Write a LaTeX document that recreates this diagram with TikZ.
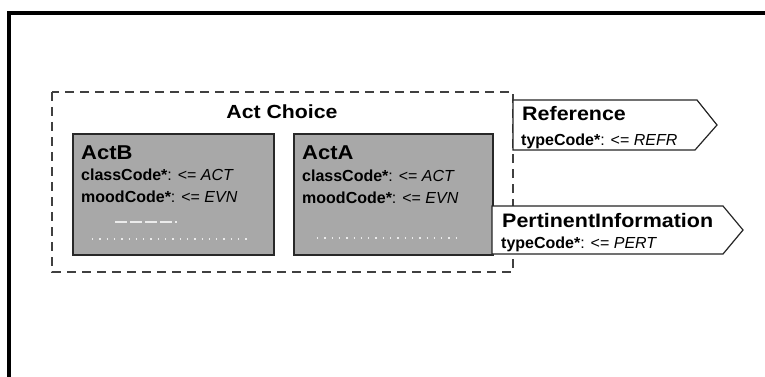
\documentclass[tikz,border=0pt]{standalone}
\usepackage{fontspec}
\setmainfont{Liberation Sans}
\usepackage{graphicx}
\definecolor{actgray}{RGB}{168,168,168}
\definecolor{edgegray}{RGB}{40,40,40}
\newcommand\hsc[1]{\scalebox{1.1}[1]{#1}}
\newcommand\asc[1]{\scalebox{1.0}[1]{#1}}
\tikzset{
  actbox/.style={draw=edgegray, line width=1.5pt, fill=actgray, inner sep=0pt, anchor=north west},
  choicebox/.style={draw=black!75, line width=1.4pt, dash pattern=on 9pt off 6pt},
  signalbox/.style={draw=black!85, line width=1.2pt, fill=white},
  tx/.style={anchor=base west, inner sep=0pt, font=\fontsize{16}{19}\selectfont},
  headtx/.style={anchor=base west, inner sep=0pt, font=\fontsize{20}{24}\selectfont\bfseries},
  sigtx/.style={anchor=base west, inner sep=0pt, font=\fontsize{19.5}{23}\selectfont\bfseries},
  titletx/.style={anchor=base, inner sep=0pt, font=\fontsize{19}{23}\selectfont\bfseries},
  speck/.style={draw=white!92!black, line width=1.3pt, dash pattern=on 1.3pt off 6pt},
  speckdash/.style={draw=white!92!black, line width=1.5pt, dash pattern=on 12pt off 3pt}
}
\begin{document}
\begin{tikzpicture}[x=1pt,y=-1pt]
\useasboundingbox (0,0) rectangle (765,377);
\fill[white] (0,0) rectangle (765,377);
% outer frame
\coordinate (fbl) at (9,377);
\coordinate (ftl) at (9,13);
\coordinate (ftr) at (765,13);
\draw[line width=4pt] (fbl) -- (ftl) -- (ftr);
% choice box
\coordinate (c1) at (52,92);
\coordinate (c2) at (513,272);
\draw[choicebox] (c1) rectangle (c2);
\node[titletx] (choice) at (282,119) {\scalebox{1.12}[1]{Act Choice}};
% ActB
\node[actbox, minimum width=201pt, minimum height=121pt] (actB) at (72,133) {};
\node[headtx] (bname) at (81,159) {\hsc{ActB}};
\node[tx] (bclass) at (81,180) {\asc{\textbf{classCode*}: <= \textit{ACT}}};
\node[tx] (bmood) at (81,202) {\asc{\textbf{moodCode*}: <= \textit{EVN}}};
\coordinate (bd1) at (115,222); \coordinate (bd2) at (177,222);
\draw[speckdash] (bd1) -- (bd2);
\coordinate (bs1) at (92,239); \coordinate (bs2) at (248,239);
\draw[speck] (bs1) -- (bs2);
% ActA
\node[actbox, minimum width=199pt, minimum height=121pt] (actA) at (293,133) {};
\node[headtx] (aname) at (302,159) {\hsc{ActA}};
\node[tx] (aclass) at (302,181) {\asc{\textbf{classCode*}: <= \textit{ACT}}};
\node[tx] (amood) at (302,203) {\asc{\textbf{moodCode*}: <= \textit{EVN}}};
\coordinate (as1) at (317,238); \coordinate (as2) at (461,238);
\draw[speck] (as1) -- (as2);
% Reference
\coordinate (r1) at (513,100); \coordinate (r2) at (697,100);
\coordinate (r3) at (717,125); \coordinate (r4) at (695,150);
\coordinate (r5) at (513,150);
\draw[signalbox] (r1) -- (r2) -- (r3) -- (r4) -- (r5) -- cycle;
\node[sigtx] (refname) at (522,121) {\hsc{Reference}};
\node[tx] (reftype) at (521,145) {\asc{\textbf{typeCode*}: <= \textit{REFR}}};
% PertinentInformation
\coordinate (p1) at (492,206); \coordinate (p2) at (723,206);
\coordinate (p3) at (743,230); \coordinate (p4) at (723,254);
\coordinate (p5) at (492,254);
\draw[signalbox] (p1) -- (p2) -- (p3) -- (p4) -- (p5) -- cycle;
\node[sigtx] (pername) at (502,227) {\hsc{PertinentInformation}};
\node[tx] (pertype) at (501,248) {\asc{\textbf{typeCode*}: <= \textit{PERT}}};
\end{tikzpicture}
\end{document}
